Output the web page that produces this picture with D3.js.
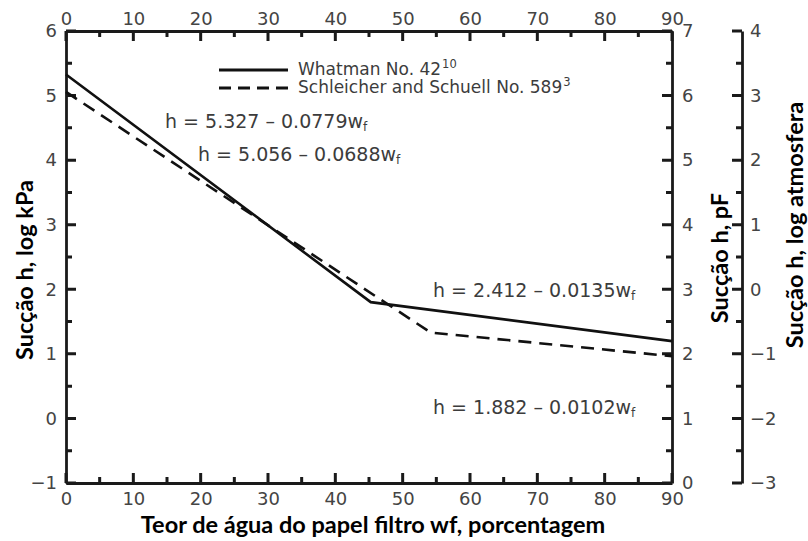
<!DOCTYPE html>
<html>
<head>
<meta charset="utf-8">
<script src="https://cdn.jsdelivr.net/npm/d3@7"></script>
<style>
  body { margin: 0; background: #fff; }
</style>
</head>
<body>
<svg id="chart" width="808" height="541"></svg>
<script>
// Filter paper calibration curves: water content (%) vs suction (log kPa)
const whatmanW = [0, 45.26, 90];
const whatmanH = [5.327, 1.801, 1.197];
const schleicherW = [0, 54.16, 90];
const schleicherH = [5.056, 1.330, 0.964];

const seriesNames = ["Whatman No. 42", "Schleicher and Schuell No. 589"];
const seriesRefs = ["10", "3"];
const equationText = [
  "h = 5.327 – 0.0779w",
  "h = 5.056 – 0.0688w",
  "h = 2.412 – 0.0135w",
  "h = 1.882 – 0.0102w"
];

const xTicks = [0, 10, 20, 30, 40, 50, 60, 70, 80, 90];
const xMinor = [5, 15, 25, 35, 45, 55, 65, 75, 85];
const kpaTicks = [-1, 0, 1, 2, 3, 4, 5, 6];
const kpaMinor = [-0.5, 0.5, 1.5, 2.5, 3.5, 4.5, 5.5];
const pfTicks = [0, 1, 2, 3, 4, 5, 6, 7];
const pfMinor = [0.5, 1.5, 2.5, 3.5, 4.5, 5.5, 6.5];
const atmTicks = [-3, -2, -1, 0, 1, 2, 3, 4];
const atmMinor = [-2.5, -1.5, -0.5, 0.5, 1.5, 2.5, 3.5];

const svg = d3.select("#chart");
const L = 66, R = 672, T = 31, B = 483, ATM_X = 742;

const x = d3.scaleLinear().domain([0, 90]).range([L, R]);
const yKpa = d3.scaleLinear().domain([-1, 6]).range([B, T]);
const yPf = d3.scaleLinear().domain([0, 7]).range([B, T]);
const yAtm = d3.scaleLinear().domain([-3, 4]).range([B, T]);

const INK = "#1a1a1a";
const LABEL_FONT = "DejaVu Sans, sans-serif";
const fmt = d3.format("d");
const MAJ = 10, MIN = 6;

// tick marks pointing into the plot box (dir = +1 / -1), drawn as one path
function tickMarks(scale, values, len, vertical, pos, dir) {
  const d = values.map(v => {
    const p = scale(v);
    return vertical
      ? `M${pos},${p}H${pos + dir * len}`
      : `M${p},${pos}V${pos + dir * len}`;
  }).join("");
  svg.append("path").attr("d", d).attr("fill", "none")
    .attr("stroke", INK).attr("stroke-width", 3);
}

// axis line and labels from d3.axis, ticks drawn inward
function axis(gen, scale, major, minor, tx, ty, pad, vertical, dir) {
  const g = svg.append("g").attr("transform", `translate(${tx},${ty})`);
  g.call(gen(scale).tickValues(major).tickFormat(fmt).tickSize(0).tickPadding(pad));
  g.select(".domain").attr("stroke", INK).attr("stroke-width", 2.8);
  g.selectAll(".tick line").remove();
  g.selectAll(".tick text")
    .attr("font-family", LABEL_FONT).attr("font-size", 18).attr("fill", "#444");
  const pos = vertical ? tx : ty;
  tickMarks(scale, major, MAJ, vertical, pos, dir);
  tickMarks(scale, minor, MIN, vertical, pos, dir);
}

// water-content axes, bottom and top
axis(d3.axisBottom, x, xTicks, xMinor, 0, B, 9, false, -1);
axis(d3.axisTop, x, xTicks, xMinor, 0, T, 6, false, 1);
// log kPa on the left
axis(d3.axisLeft, yKpa, kpaTicks, kpaMinor, L, 0, 9, true, 1);
// pF on the right edge of the box
axis(d3.axisRight, yPf, pfTicks, pfMinor, R, 0, 10, true, -1);
// log atmosphere, detached on the far right
axis(d3.axisRight, yAtm, atmTicks, atmMinor, ATM_X, 0, 8, true, -1);

// curves
const line = d3.line().x(d => x(d[0])).y(d => yKpa(d[1]));
const whatman = whatmanW.map((w, i) => [w, whatmanH[i]]);
const schleicher = schleicherW.map((w, i) => [w, schleicherH[i]]);

svg.append("path").datum(whatman).attr("d", line)
  .attr("fill", "none").attr("stroke", "#111").attr("stroke-width", 2.6);
svg.append("path").datum(schleicher).attr("d", line)
  .attr("fill", "none").attr("stroke", "#111").attr("stroke-width", 2.6)
  .attr("stroke-dasharray", "13,8");

// legend
const legend = svg.append("g");
[0, 1].forEach(i => {
  const yy = 70 + i * 18;
  legend.append("line").attr("x1", 219).attr("x2", 288).attr("y1", yy).attr("y2", yy)
    .attr("stroke", "#111").attr("stroke-width", 2.8)
    .attr("stroke-dasharray", i ? "12,7" : null);
  const t = legend.append("text").attr("x", 298).attr("y", yy + 5)
    .attr("font-family", LABEL_FONT).attr("font-size", 17).attr("fill", "#3c3c3c");
  t.append("tspan").text(seriesNames[i]);
  t.append("tspan").attr("font-size", 11.5).attr("dy", -7).attr("dx", 1).text(seriesRefs[i]);
});

// regression equations
const eqPos = [[165, 128], [198, 161], [433, 297], [433, 414]];
equationText.forEach((s, i) => {
  const t = svg.append("text")
    .attr("x", eqPos[i][0]).attr("y", eqPos[i][1])
    .attr("font-family", LABEL_FONT).attr("font-size", 19).attr("fill", "#3c3c3c");
  t.append("tspan").text(s);
  t.append("tspan").attr("font-size", 12).attr("dy", 3).text("f");
});

// axis titles
function title(txt, tx, ty, rot) {
  svg.append("text")
    .attr("transform", `translate(${tx},${ty})` + (rot ? " rotate(-90)" : ""))
    .attr("text-anchor", "middle")
    .attr("font-family", "Lato, 'Open Sans', sans-serif")
    .attr("font-size", 23.5).attr("font-weight", 700).attr("fill", "#000")
    .text(txt);
}
title("Teor de água do papel filtro wf, porcentagem", 373, 533, false);
title("Sucção h, log kPa", 33, 270, true);
title("Sucção h, pF", 728, 258, true);
title("Sucção h, log atmosfera", 803, 225, true);
</script>
</body>
</html>
